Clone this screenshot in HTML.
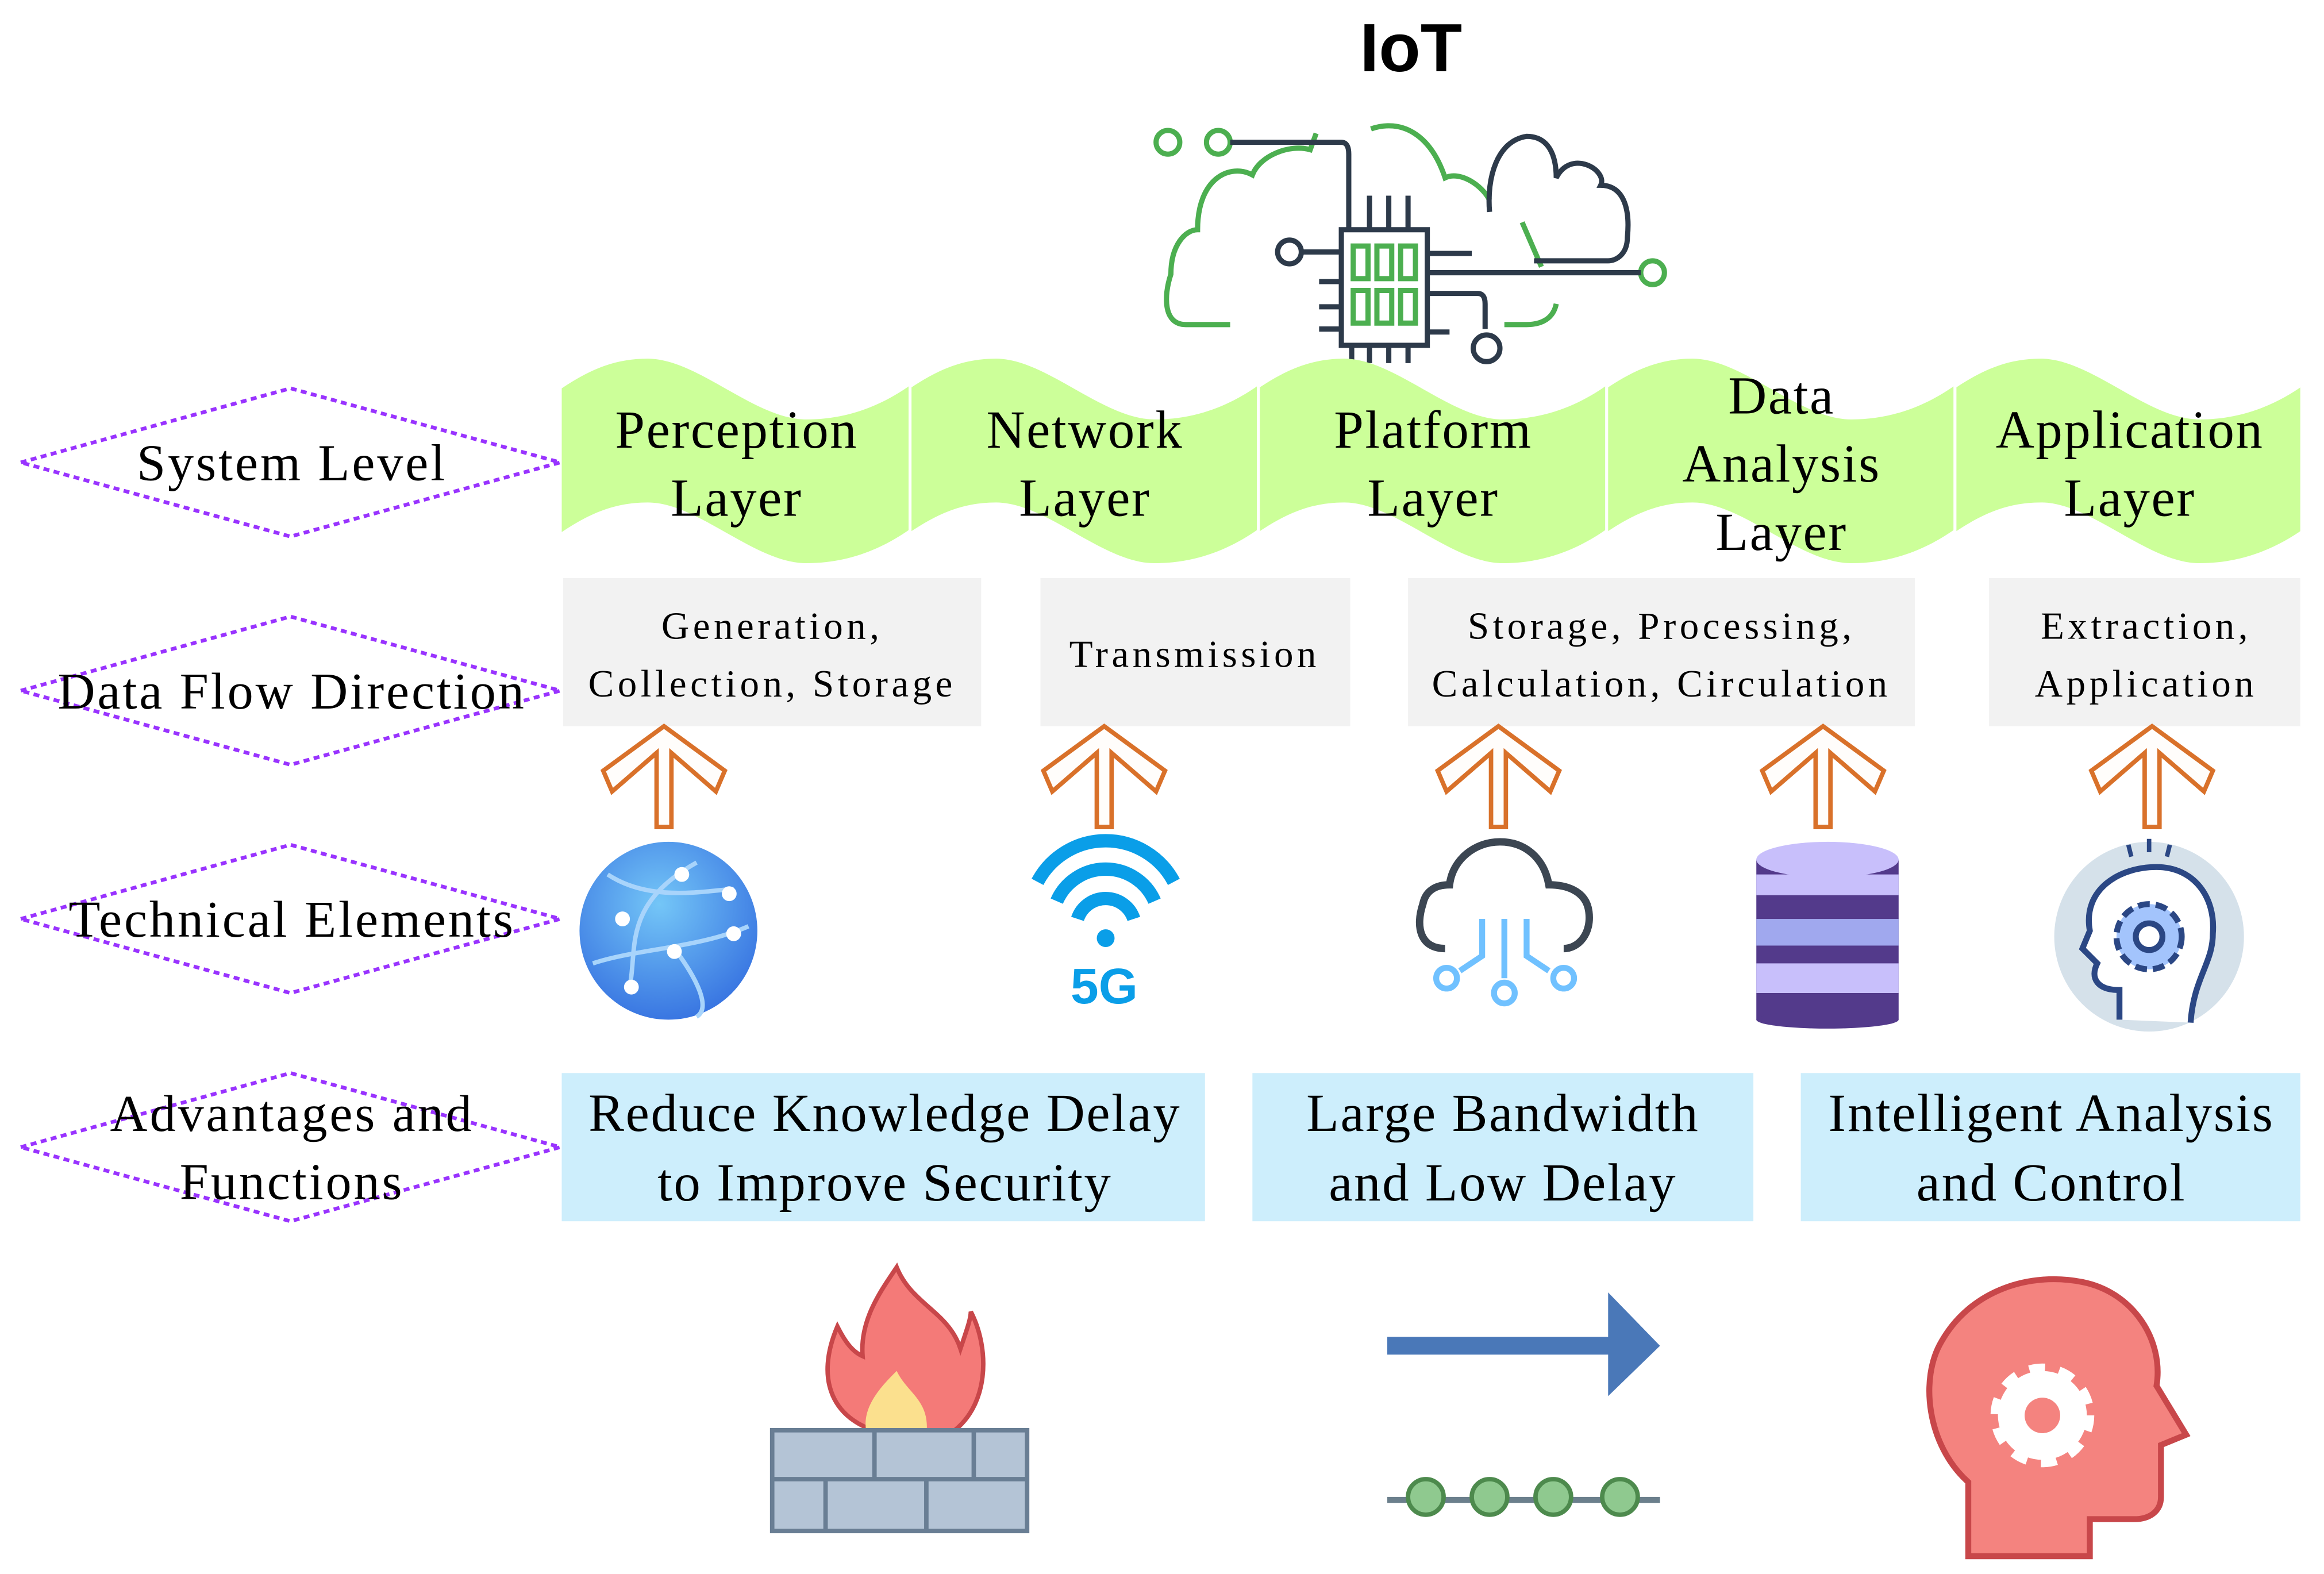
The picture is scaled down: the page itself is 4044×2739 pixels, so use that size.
<!DOCTYPE html>
<html><head><meta charset="utf-8"><style>
html,body{margin:0;padding:0;background:#fff;}
svg{display:block;}
text{font-family:"Liberation Serif",serif;fill:#000;}
</style></head><body>
<svg width="4044" height="2739" viewBox="0 0 1568 1062" preserveAspectRatio="none" xmlns="http://www.w3.org/2000/svg">
<defs>
<g id="seg">
<path d="M0,262 C18,250 35,242 58,242 C92,242 130,283 165,283 C195,283 218,272 235,260 L235,357 C218,369 195,380 165,380 C130,380 92,339 58,339 C35,339 18,347 0,359 Z" fill="#ccff99"/>
</g>
<g id="arr">
<path d="M0,0 L41,30 L35,44 L5,18 L5,68 L-5,68 L-5,18 L-35,44 L-41,30 Z" fill="#fffdfb" stroke="#d9712a" stroke-width="3" stroke-linejoin="miter"/>
</g>
</defs>

<text x="952" y="48" font-weight="bold" font-size="46" text-anchor="middle" style="font-family:'Liberation Sans',sans-serif">IoT</text>

<g fill="none" stroke-width="3.5">
<g stroke="#4caf50">
<path d="M830,219 L800,219 C785,219 785,200 790,185 C790,165 800,155 808,155 C808,120 830,110 845,118 C850,105 870,97 884,101 L888,90"/>
<path d="M925,87 C945,80 965,90 975,120 C985,115 1000,125 1005,135"/>
<path d="M1027,150 L1040,180"/>
<path d="M1050,205 C1048,215 1040,219 1030,219 L1015,219"/>
<circle cx="788" cy="96" r="8"/><circle cx="822" cy="96" r="8"/>
<circle cx="1115" cy="184" r="8"/>
<rect x="913" y="166" width="10" height="22"/><rect x="929" y="166" width="10" height="22"/><rect x="945" y="166" width="10" height="22"/>
<rect x="913" y="196" width="10" height="22"/><rect x="929" y="196" width="10" height="22"/><rect x="945" y="196" width="10" height="22"/>
</g>
<g stroke="#2d3a4a">
<path d="M830,96 L905,96 Q910,96 910,104 L910,155"/>
<rect x="905" y="155" width="58" height="78"/>
<path d="M924,155 V132 M937,155 V132 M950,155 V132"/>
<path d="M912,233 V245 M924,233 V245 M937,233 V245 M950,233 V245"/>
<circle cx="870" cy="170" r="8"/><path d="M878,170 H905"/>
<path d="M890,190 H905 M890,207 H905 M890,222 H905"/>
<path d="M963,171 H993 M963,184 H1107 M963,224 H978"/>
<path d="M963,198 H997 Q1002,198 1002,205 V222"/><circle cx="1003" cy="235" r="9"/>
<path d="M1005,143 C1003,120 1010,95 1030,92 C1045,92 1050,105 1050,120 C1060,100 1085,115 1080,125 C1095,125 1100,140 1098,160 C1098,172 1090,176 1085,176 L1035,176"/>
</g>
</g>

<use href="#seg" x="379"/>
<use href="#seg" x="614"/>
<use href="#seg" x="849"/>
<use href="#seg" x="1084"/>
<use href="#seg" x="1319"/>
<rect x="1552" y="230" width="20" height="160" fill="#fff"/>
<g stroke="#fff" stroke-width="2"><line x1="614" y1="240" x2="614" y2="382"/><line x1="849" y1="240" x2="849" y2="382"/><line x1="1084" y1="240" x2="1084" y2="382"/><line x1="1319" y1="240" x2="1319" y2="382"/></g>
<g font-size="36" text-anchor="middle" letter-spacing="1">
<text x="497" y="302">Perception</text><text x="497" y="348">Layer</text>
<text x="732" y="302">Network</text><text x="732" y="348">Layer</text>
<text x="967" y="302">Platform</text><text x="967" y="348">Layer</text>
<text x="1202" y="279">Data</text><text x="1202" y="325">Analysis</text><text x="1202" y="371">Layer</text>
<text x="1437" y="302">Application</text><text x="1437" y="348">Layer</text>
</g>

<g fill="none" stroke="#9933ff" stroke-width="2.5" stroke-dasharray="4,3">
<path d="M14,312 L196,262 L378,312 L196,362 Z"/>
<path d="M14,466 L196,416 L378,466 L196,516 Z"/>
<path d="M14,620 L196,570 L378,620 L196,670 Z"/>
<path d="M14,774 L196,724 L378,774 L196,824 Z"/>
</g>
<g font-size="35" text-anchor="middle" letter-spacing="1.5">
<text x="197" y="324">System Level</text>
<text x="197" y="478">Data Flow Direction</text>
<text x="197" y="632">Technical Elements</text>
<text x="197" y="763">Advantages and</text>
<text x="197" y="809">Functions</text>
</g>

<g fill="#f2f2f2">
<rect x="380" y="390" width="282" height="100"/>
<rect x="702" y="390" width="209" height="100"/>
<rect x="950" y="390" width="342" height="100"/>
<rect x="1342" y="390" width="210" height="100"/>
</g>
<g font-size="26" text-anchor="middle" letter-spacing="2.5">
<text x="521" y="431">Generation,</text><text x="521" y="470">Collection, Storage</text>
<text x="806" y="450">Transmission</text>
<text x="1121" y="431">Storage, Processing,</text><text x="1121" y="470">Calculation, Circulation</text>
<text x="1448" y="431">Extraction,</text><text x="1448" y="470">Application</text>
</g>

<use href="#arr" x="448" y="490"/>
<use href="#arr" x="745" y="490"/>
<use href="#arr" x="1011" y="490"/>
<use href="#arr" x="1230" y="490"/>
<use href="#arr" x="1452" y="490"/>

<defs><radialGradient id="gl" cx="0.45" cy="0.35" r="0.7"><stop offset="0" stop-color="#74c6f7"/><stop offset="1" stop-color="#3570e0"/></radialGradient></defs>
<circle cx="451" cy="628" r="60" fill="url(#gl)"/>
<g fill="none" stroke="#a8d4fb" stroke-width="3">
<path d="M425,665 C430,640 420,610 470,582"/><path d="M400,650 C430,640 470,640 505,625"/><path d="M410,590 C440,610 480,600 495,600"/><path d="M455,640 C470,660 480,680 470,686"/>
</g>
<g fill="#fff"><circle cx="460" cy="590" r="5"/><circle cx="420" cy="620" r="5"/><circle cx="492" cy="603" r="5"/><circle cx="455" cy="642" r="5"/><circle cx="426" cy="666" r="5"/><circle cx="495" cy="630" r="5"/></g>

<g fill="none" stroke="#0a9ee8" stroke-width="9">
<path d="M700,595 A52,52 0 0 1 792,595"/>
<path d="M713,608 A36,36 0 0 1 779,608"/>
<path d="M727,620 A20,20 0 0 1 765,620"/>
</g>
<circle cx="746" cy="633" r="6" fill="#0a9ee8"/>
<text x="745" y="677" font-weight="bold" font-size="34" text-anchor="middle" style="font-family:'Liberation Sans',sans-serif;fill:#0a9ee8">5G</text>

<path d="M975,640 C958,640 955,625 960,610 C962,600 970,597 978,597 C980,580 995,568 1012,568 C1030,568 1042,580 1045,597 C1055,597 1070,600 1072,615 C1074,630 1065,640 1055,640" fill="none" stroke="#3c4652" stroke-width="5"/>
<g fill="none" stroke="#70c1ff" stroke-width="4">
<path d="M1000,620 V645 L985,655"/><path d="M1015,620 V660"/><path d="M1030,620 V645 L1045,655"/>
<circle cx="976" cy="660" r="7"/><circle cx="1015" cy="670" r="7"/><circle cx="1055" cy="660" r="7"/>
</g>

<g>
<rect x="1185" y="580" width="96" height="108" fill="#533a8b"/>
<ellipse cx="1233" cy="580" rx="48" ry="12" fill="#c8bffb"/>
<rect x="1185" y="590" width="96" height="14" fill="#c8bffb"/>
<rect x="1185" y="620" width="96" height="18" fill="#a0a8ee"/>
<rect x="1185" y="650" width="96" height="20" fill="#c8bffb"/>
<ellipse cx="1233" cy="688" rx="48" ry="6" fill="#533a8b"/>
</g>

<circle cx="1450" cy="632" r="64" fill="#d5e1ea"/>
<path d="M1430,688 L1430,668 C1415,668 1410,660 1415,650 L1405,640 L1410,628 C1405,600 1430,585 1455,585 C1480,585 1495,605 1493,630 C1493,650 1480,660 1478,690" fill="#fff" stroke="#2b4784" stroke-width="4"/>
<circle cx="1450" cy="632" r="22" fill="#a3c4fc" stroke="#2b4784" stroke-width="4" stroke-dasharray="8,4"/>
<circle cx="1450" cy="632" r="9" fill="#fff" stroke="#2b4784" stroke-width="4"/>
<path d="M1438,578 L1436,570 M1450,575 V566 M1462,578 L1464,570" stroke="#2b4784" stroke-width="3"/>

<g fill="#cdeefc">
<rect x="379" y="724" width="434" height="100"/>
<rect x="845" y="724" width="338" height="100"/>
<rect x="1215" y="724" width="337" height="100"/>
</g>
<g font-size="36" text-anchor="middle" letter-spacing="1">
<text x="597" y="763">Reduce Knowledge Delay</text><text x="597" y="810">to Improve Security</text>
<text x="1014" y="763">Large Bandwidth</text><text x="1014" y="810">and Low Delay</text>
<text x="1384" y="763">Intelligent Analysis</text><text x="1384" y="810">and Control</text>
</g>

<path d="M600,968 C560,960 550,930 565,895 C570,905 575,912 582,915 C580,890 595,870 605,855 C615,880 640,885 648,910 C652,898 655,890 655,885 C668,910 668,950 640,968 Z" fill="#f47a78" stroke="#c8474a" stroke-width="3"/>
<path d="M585,968 C580,950 595,935 605,925 C612,940 628,945 625,968 Z" fill="#fbe08e"/>
<rect x="521" y="965" width="172" height="68" fill="#b4c4d6" stroke="#697e94" stroke-width="3"/>
<g stroke="#697e94" stroke-width="3"><line x1="521" y1="998" x2="693" y2="998"/><line x1="590" y1="965" x2="590" y2="998"/><line x1="657" y1="965" x2="657" y2="998"/><line x1="557" y1="998" x2="557" y2="1033"/><line x1="625" y1="998" x2="625" y2="1033"/></g>

<path d="M936,902 H1085 V872 L1120,908 L1085,942 V914 H936 Z" fill="#4a78b8"/>
<line x1="936" y1="1012" x2="1120" y2="1012" stroke="#6b7f8c" stroke-width="4"/>
<g fill="#8fc98f" stroke="#4d8a4d" stroke-width="3">
<circle cx="962" cy="1010" r="12"/><circle cx="1005" cy="1010" r="12"/><circle cx="1048" cy="1010" r="12"/><circle cx="1093" cy="1010" r="12"/>
</g>

<path d="M1328,1050 L1328,1000 C1300,975 1295,930 1310,905 C1330,870 1370,858 1405,865 C1440,872 1460,905 1455,935 L1475,968 L1458,975 L1458,1010 C1458,1020 1450,1025 1440,1025 L1410,1025 L1410,1050 Z" fill="#f4837f" stroke="#c8474a" stroke-width="4"/>
<circle cx="1378" cy="955" r="30" fill="#fff" stroke="#fff" stroke-width="10" stroke-dasharray="10,9"/>
<circle cx="1378" cy="955" r="12" fill="#f4837f"/>
</svg>
</body></html>
